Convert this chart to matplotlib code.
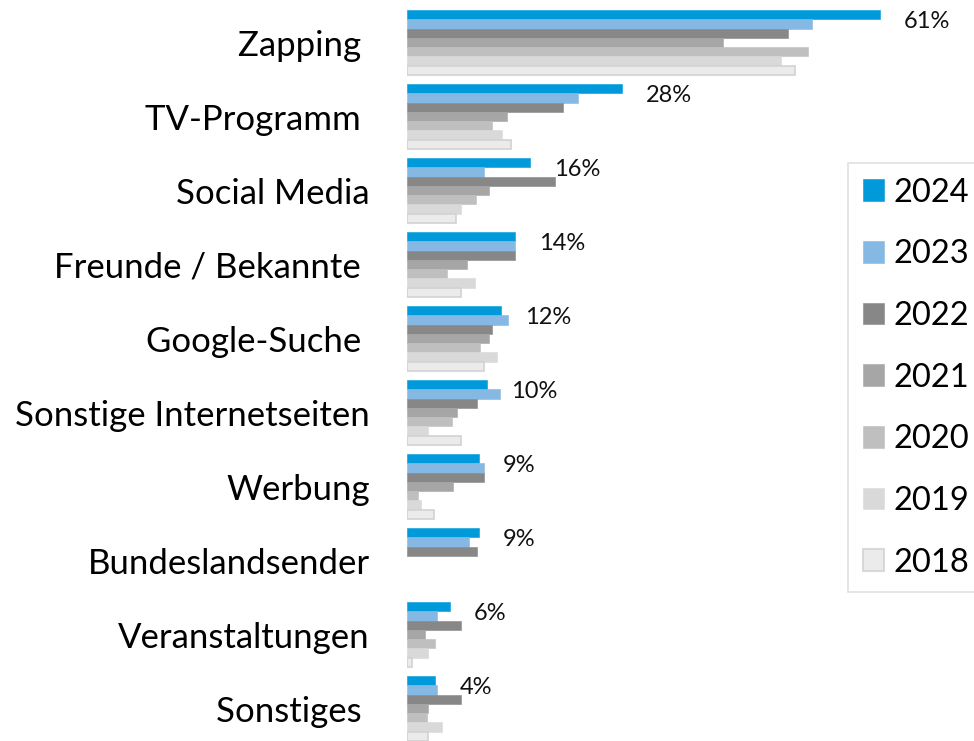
import matplotlib
matplotlib.use("Agg")
import matplotlib.pyplot as plt
import numpy as np

plt.rcParams['font.family'] = ['Lato', 'DejaVu Sans']

categories = ["Zapping ", "TV-Programm ", "Social Media", "Freunde / Bekannte ",
              "Google-Suche ", "Sonstige Internetseiten", "Werbung",
              "Bundeslandsender", "Veranstaltungen", "Sonstiges "]
years = ["2024", "2023", "2022", "2021", "2020", "2019", "2018"]
v2024 = [61, 28, 16, 14, 12, 10, 9, 9, 6, 4]
v2024_bar = [61, 27.7, 15.9, 14.0, 12.2, 10.3, 9.3, 9.3, 5.6, 3.7]
v2023 = [52.2, 22.1, 10.0, 14.0, 13.0, 12.0, 10.0, 8.0, 3.9, 3.9]
v2022 = [49.2, 20.1, 19.1, 14.0, 11.0, 9.0, 10.0, 9.0, 7.0, 7.0]
v2021 = [40.8, 12.9, 10.6, 7.8, 10.6, 6.5, 6.0, np.nan, 2.3, 2.7]
v2020 = [51.7, 11.0, 8.9, 5.2, 9.4, 5.8, 1.5, np.nan, 3.7, 2.6]
v2019 = [48.2, 12.3, 7.0, 8.8, 11.7, 2.8, 1.8, np.nan, 2.8, 4.6]
v2018 = [50.0, 13.4, 6.4, 7.0, 9.9, 7.0, 3.5, np.nan, 0.7, 2.8]
value_labels = ["61%", "28%", "16%", "14%", "12%", "10%", "9%", "9%", "6%", "4%"]

series = [v2024_bar, v2023, v2022, v2021, v2020, v2019, v2018]
colors = ["#009ADA", "#85B8E2", "#878787", "#A6A6A6", "#BFBFBF", "#D9D9D9", "#EBEBEB"]
edges = ["#009ADA", "#85B8E2", "#878787", "#A6A6A6", "#BFBFBF", "#D9D9D9", "#D2D2D2"]

W, H = 974, 741
fig = plt.figure(figsize=(W/100, H/100), dpi=100)
x0 = 406.7
ax = fig.add_axes([x0/W, 0, 1 - x0/W, 1])
px_per = 7.76
ax.set_xlim(0, (W - x0)/px_per)
spacing = 74.0
ax.set_ylim((H - 42.5)/spacing, -42.5/spacing)

h = 9.3/spacing
y = np.arange(len(categories))
for j, (vals, c, e, lab) in enumerate(zip(series, colors, edges, years)):
    lw = 1.2 if j == 6 else 0.4
    ax.barh(y + (j - 3)*h, vals, height=h, color=c, edgecolor=e, linewidth=lw, label=lab)

for i, (v, t) in enumerate(zip(v2024_bar, value_labels)):
    ax.text(v + 24/px_per, y[i] - 3*h + 0.09, t, va='center', ha='left', fontsize=17, color='#111111')

ax.set_yticks(y)
ax.set_yticklabels(categories, fontsize=25)
ax.tick_params(axis='y', length=0, pad=(x0 - 370)*0.72)
ax.set_xticks([])
for s in ax.spines.values():
    s.set_visible(False)

leg = fig.legend(loc='upper left', bbox_to_anchor=(848/W, 1 - 163/H), fontsize=23.5,
                 frameon=True, fancybox=False, edgecolor='#D9D9D9', handlelength=0.65,
                 handleheight=0.65, handletextpad=0.3, labelspacing=0.97, borderpad=0.45,
                 borderaxespad=0)
leg.get_frame().set_linewidth(1.2)

fig.savefig("out.png", dpi=100)
